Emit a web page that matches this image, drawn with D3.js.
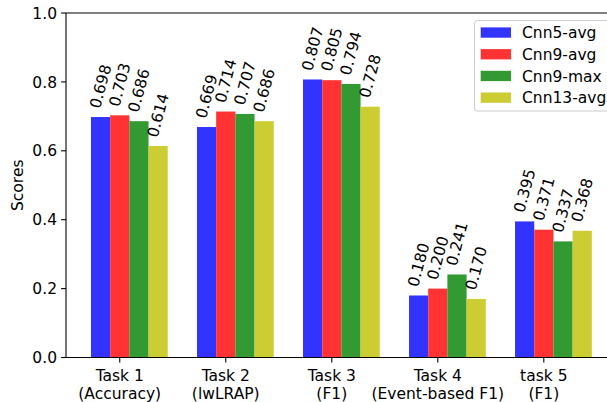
<!DOCTYPE html>
<html>
<head>
<meta charset="utf-8">
<script src="https://cdn.jsdelivr.net/npm/d3@7"></script>
<style>
  body { margin: 0; background: #fff; }
  svg { display: block; font-family: "DejaVu Sans", sans-serif; }
</style>
</head>
<body>
<svg id="chart" width="607" height="402"></svg>
<script>
// ==================== DATA ====================
const tasks = ['Task 1\n(Accuracy)', 'Task 2\n(lwLRAP)', 'Task 3\n(F1)', 'Task 4\n(Event-based F1)', 'task 5\n(F1)'];
const seriesNames = ['Cnn5-avg', 'Cnn9-avg', 'Cnn9-max', 'Cnn13-avg'];
const cnn5Avg = [0.698, 0.669, 0.807, 0.180, 0.395];
const cnn9Avg = [0.703, 0.714, 0.805, 0.200, 0.371];
const cnn9Max = [0.686, 0.707, 0.794, 0.241, 0.337];
const cnn13Avg = [0.614, 0.686, 0.728, 0.170, 0.368];
const yTicks = [0.0, 0.2, 0.4, 0.6, 0.8, 1.0];

const seriesValues = [cnn5Avg, cnn9Avg, cnn9Max, cnn13Avg];
const colors = ['#3333ff', '#ff3333', '#339933', '#cccc33'];

// ==================== LAYOUT ====================
const fontSize = 15.5;
const plotLeft = 66, plotRight = 614, plotTop = 13, plotBottom = 357.5;
const barW = 0.181;

const svg = d3.select('#chart');
svg.append('rect').attr('width', 607).attr('height', 402).attr('fill', '#fff');

const x = d3.scaleLinear().domain([-0.326, 4.843]).range([plotLeft, plotRight]);
const y = d3.scaleLinear().domain([0, 1]).range([plotBottom, plotTop]);
const bw = x(barW) - x(0);

// bars
const g = svg.append('g');
seriesValues.forEach((vals, k) => {
  g.append('g')
    .selectAll('rect')
    .data(vals)
    .join('rect')
    .attr('x', (d, i) => x(i + k * barW) - bw / 2)
    .attr('y', (d) => y(d))
    .attr('width', bw)
    .attr('height', (d) => y(0) - y(d))
    .attr('fill', colors[k]);
});

// value labels (rotated 75deg, bottom-center of the rotated box just above the bar)
seriesValues.forEach((vals, k) => {
  g.append('g')
    .selectAll('text')
    .data(vals)
    .join('text')
    .attr('transform', (d, i) => `translate(${x(i + k * barW) - 0.6},${y(d + 0.02) - 0.95}) rotate(-75)`)
    .attr('font-size', fontSize + 'px')
    .attr('fill', '#000')
    .text((d) => d.toFixed(3));
});

// spines
const axisColor = '#000';
const spine = (x1, y1, x2, y2) => svg.append('line')
  .attr('x1', x1).attr('y1', y1).attr('x2', x2).attr('y2', y2)
  .attr('stroke', axisColor).attr('stroke-width', 1.1);
spine(plotLeft, plotTop, plotLeft, plotBottom);
spine(plotLeft, plotBottom, plotRight, plotBottom);
spine(plotLeft, plotTop, plotRight, plotTop);
spine(plotRight, plotTop, plotRight, plotBottom);

// y axis
const yAxis = svg.append('g');
yTicks.forEach((t) => {
  yAxis.append('line')
    .attr('x1', plotLeft - 4.9).attr('x2', plotLeft)
    .attr('y1', y(t)).attr('y2', y(t))
    .attr('stroke', axisColor).attr('stroke-width', 1.1);
  yAxis.append('text')
    .attr('x', plotLeft - 9)
    .attr('y', y(t) + 5.6)
    .attr('text-anchor', 'end')
    .attr('font-size', fontSize + 'px')
    .attr('fill', '#000')
    .text(t.toFixed(1));
});

svg.append('text')
  .attr('transform', `translate(23.3,${(plotTop + plotBottom) / 2}) rotate(-90)`)
  .attr('text-anchor', 'middle')
  .attr('font-size', fontSize + 'px')
  .attr('fill', '#000')
  .text('Scores');

// x axis (ticks sit under the second bar of each group)
const xAxis = svg.append('g');
tasks.forEach((label, i) => {
  const tx = x(i + barW);
  xAxis.append('line')
    .attr('x1', tx).attr('x2', tx)
    .attr('y1', plotBottom).attr('y2', plotBottom + 4.9)
    .attr('stroke', axisColor).attr('stroke-width', 1.1);
  const txt = xAxis.append('text')
    .attr('text-anchor', 'middle')
    .attr('font-size', fontSize + 'px')
    .attr('fill', '#000');
  label.split('\n').forEach((line, li) => {
    txt.append('tspan').attr('x', tx).attr('y', 380.7 + li * 18.6).text(line);
  });
});

// legend
const legend = svg.append('g');
legend.append('rect')
  .attr('x', 474.5).attr('y', 20.5)
  .attr('width', 140).attr('height', 90.5)
  .attr('rx', 3)
  .attr('fill', 'rgba(255,255,255,0.8)')
  .attr('stroke', '#cccccc')
  .attr('stroke-width', 1);
seriesNames.forEach((name, k) => {
  const cy = 32.5 + k * 21.7;
  legend.append('rect')
    .attr('x', 480.7).attr('y', cy - 5.1)
    .attr('width', 30.3).attr('height', 10.3)
    .attr('fill', colors[k]);
  legend.append('text')
    .attr('x', 522)
    .attr('y', cy + 5.6)
    .attr('font-size', fontSize + 'px')
    .attr('fill', '#000')
    .text(name);
});
</script>
</body>
</html>
